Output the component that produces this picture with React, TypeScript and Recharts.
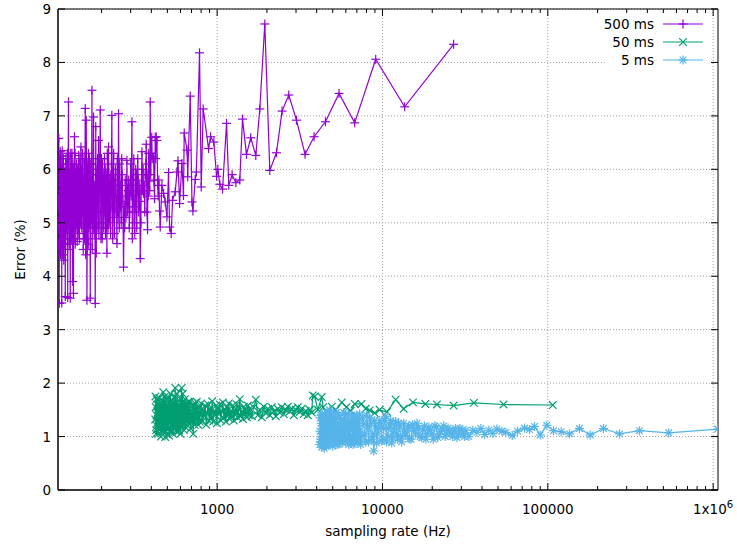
import { LineChart, Line, XAxis, YAxis, CartesianGrid, ReferenceLine, ReferenceArea, Label } from "recharts";

// sampling rate (Hz), error (%)
const rate500: [number, number][] = [
  [109.4, 5.0], [109.8, 5.45], [110.2, 6.58], [110.6, 4.9], [110.9, 3.49], [111.3, 5.2], [111.7, 5.6], [112.1, 4.7],
  [112.5, 6.33], [112.9, 5.3], [113.2, 4.6], [113.6, 5.5], [114.0, 5.9], [114.4, 4.8], [114.8, 3.5], [115.2, 5.1],
  [115.6, 6.35], [116.0, 5.6], [116.4, 4.4], [116.8, 5.3], [117.3, 5.85], [117.7, 4.9], [118.1, 4.3], [118.5, 5.7],
  [118.9, 5.5], [119.7, 4.7], [120.6, 3.62], [121.0, 5.2], [121.4, 5.95], [121.8, 5.0], [122.3, 4.9], [123.1, 5.8],
  [124.0, 5.7], [124.4, 4.5], [124.8, 3.6], [125.2, 5.4], [125.7, 6.25], [126.1, 7.26], [126.8, 5.0], [127.5, 4.6],
  [128.4, 5.6], [129.3, 3.59], [129.7, 5.4], [130.2, 6.3], [130.6, 5.5], [131.1, 5.1], [132.0, 5.9], [132.9, 5.6],
  [133.8, 3.9], [134.3, 5.2], [135.2, 3.68], [136.2, 5.5], [137.1, 6.61], [137.8, 5.0], [138.6, 4.6], [139.5, 5.9],
  [140.5, 5.7], [141.5, 5.0], [142.5, 4.65], [143.8, 5.6], [145.1, 6.26], [145.8, 5.3], [146.5, 5.0], [147.5, 5.5],
  [148.6, 5.9], [150.0, 6.42], [150.8, 5.4], [151.7, 4.9], [152.8, 5.8], [153.8, 5.2], [154.9, 4.5], [156.0, 5.6],
  [157.1, 5.2], [158.2, 5.0], [159.3, 7.14], [160.4, 4.4], [161.5, 6.92], [163.1, 3.55], [164.0, 5.3], [164.9, 6.1],
  [166.1, 4.6], [167.2, 5.5], [168.4, 5.8], [169.6, 5.1], [170.8, 3.59], [172.0, 6.1], [173.5, 5.4], [174.9, 7.48],
  [175.6, 4.5], [177.0, 5.6], [178.8, 6.98], [180.6, 4.8], [181.8, 5.7], [183.1, 3.49], [184.4, 6.8], [185.7, 4.43],
  [187.0, 5.9], [188.3, 5.5], [190.0, 4.9], [191.7, 6.54], [193.6, 5.0], [195.0, 5.6], [196.3, 7.11], [197.6, 5.2],
  [199.0, 5.8], [200.4, 5.0], [201.8, 4.7], [203.3, 5.6], [204.7, 5.9], [206.0, 4.9], [207.5, 5.2], [209.0, 5.7],
  [210.4, 6.0], [212.0, 5.3], [215.4, 4.43], [217.9, 5.6], [220.4, 6.42], [222.5, 5.0], [224.0, 5.5], [225.6, 5.9],
  [228.0, 5.3], [230.7, 7.01], [233.6, 4.7], [235.2, 5.9], [238.5, 5.1], [240.0, 5.6], [241.9, 5.8], [244.5, 5.2],
  [247.7, 4.61], [250.4, 5.5], [253.3, 7.04], [255.7, 4.9], [259.3, 5.7], [261.0, 5.3], [263.0, 5.0], [266.6, 5.9],
  [271.5, 4.17], [274.2, 5.3], [278.0, 5.8], [281.0, 5.1], [284.5, 6.17], [287.5, 5.2], [289.9, 5.6], [294.0, 4.9],
  [298.1, 5.7], [302.3, 5.5], [305.2, 6.89], [308.7, 5.3], [310.8, 5.8], [315.2, 5.0], [319.6, 5.3], [324.1, 5.9],
  [328.6, 5.6], [333.2, 5.8], [337.9, 5.4], [342.6, 4.33], [345.9, 5.0], [350.8, 6.33], [354.8, 5.6], [358.8, 5.55],
  [362.3, 5.7], [367.4, 5.9], [372.5, 6.47], [376.1, 5.2], [379.3, 4.87], [383.0, 5.5], [388.4, 5.78], [393.8, 7.26],
  [399.4, 6.3], [405.0, 6.2], [412.3, 6.23], [418.1, 5.45], [422.2, 6.6], [428.1, 6.61], [432.3, 6.54], [437.2, 5.7],
  [440.2, 5.5], [448.3, 5.22], [452.7, 4.92], [463.5, 5.7], [474.6, 5.55], [485.3, 5.39], [497.0, 5.11], [508.3, 5.94],
  [515.4, 4.92], [527.6, 4.8], [537.2, 5.42], [557.8, 5.58], [571.6, 5.95], [579.6, 6.16], [592.5, 5.36], [612.3, 6.11],
  [625.8, 5.51], [632.3, 6.68], [657.4, 6.36], [663.6, 5.86], [687.3, 7.37], [704.2, 5.39], [713.6, 5.22], [736.9, 5.81],
  [749.0, 5.95], [782.4, 8.18], [801.1, 5.67], [823.7, 7.13], [887, 6.39], [912, 6.61], [955, 6.51], [992, 5.87],
  [1010, 6.0], [1038, 5.72], [1078, 5.63], [1140, 6.86], [1176, 5.7], [1232, 5.9], [1297, 5.75], [1371, 5.8],
  [1424, 6.94], [1505, 6.28], [1597, 6.59], [1713, 6.26], [1811, 7.13], [1942, 8.72], [2082, 5.98], [2285, 6.31],
  [2470, 7.09], [2712, 7.39], [3018, 6.92], [3402, 6.28], [3856, 6.61], [4519, 6.89], [5461, 7.42], [6792, 6.87],
  [9099, 8.06], [13620, 7.17], [26920, 8.34],
];

// more 500 ms readings from the crowded low-rate part
const rate500Dense: [number, number][] = [
  [109.6, 4.6], [110.0, 6.1], [110.4, 5.3], [111.1, 5.8], [111.5, 4.5], [111.9, 6.2], [112.3, 5.0], [112.7, 4.4],
  [113.0, 5.9], [113.4, 6.25], [113.8, 4.9], [114.2, 5.6], [114.6, 6.0], [115.0, 4.6], [115.4, 5.7], [115.8, 4.8],
  [116.2, 6.1], [116.6, 5.0], [117.0, 4.7], [117.5, 6.2], [117.9, 5.4], [118.3, 6.0], [118.7, 4.6], [119.3, 5.95],
  [120.1, 5.3], [121.2, 4.6], [121.6, 6.2], [122.0, 5.6], [122.7, 6.1], [123.5, 4.8], [124.2, 6.3], [124.6, 5.2],
  [125.0, 4.9], [125.4, 5.9], [126.4, 5.5], [127.1, 6.2], [127.9, 5.2], [128.8, 6.0], [129.5, 4.8], [130.0, 5.2],
  [130.4, 4.7], [130.9, 6.0], [131.5, 4.7], [132.4, 6.3], [133.3, 4.9], [134.0, 6.1], [134.7, 5.5], [135.7, 6.0],
  [136.6, 4.7], [137.5, 5.7], [138.2, 6.3], [139.0, 5.2], [140.0, 4.9], [141.0, 6.1], [142.0, 5.5], [143.1, 6.0],
  [144.4, 4.8], [146.1, 5.9], [147.0, 4.7], [148.0, 6.2], [149.2, 5.0], [151.2, 6.0], [152.2, 5.6], [153.3, 6.3],
  [154.3, 5.8], [155.5, 4.8], [156.6, 6.2], [157.6, 4.7], [158.7, 5.9], [159.8, 5.3], [161.0, 5.0], [162.3, 5.8],
  [163.6, 4.5], [165.5, 5.9], [166.7, 6.3], [167.8, 4.9], [169.0, 6.2], [170.2, 5.5], [171.4, 4.7], [172.8, 5.0],
  [174.2, 6.1], [176.3, 5.9], [178.0, 4.9], [179.7, 5.4], [182.4, 5.1], [185.0, 6.0], [186.4, 5.2], [189.1, 6.2],
  [190.8, 5.4], [192.6, 4.8], [194.3, 6.2], [197.0, 6.0], [198.3, 4.7], [199.7, 6.2], [202.5, 6.1], [205.3, 5.5],
  [208.2, 6.2], [211.2, 4.8], [213.5, 5.9], [216.6, 6.3], [219.0, 4.9], [221.5, 5.7], [226.8, 4.8], [229.3, 6.1],
  [232.2, 5.5], [236.8, 6.3], [239.2, 4.8], [243.2, 6.0], [246.0, 5.4], [249.0, 6.2], [251.8, 5.1], [257.5, 6.1],
  [264.8, 6.2], [269.0, 5.4], [276.1, 4.9], [283.0, 5.5], [291.9, 5.8], [296.0, 5.2], [300.2, 6.1], [306.9, 4.7],
  [313.0, 6.2], [317.4, 4.8], [321.8, 6.0], [326.3, 4.9], [330.9, 6.2], [335.5, 5.2], [340.2, 5.7], [347.3, 5.6],
  [356.8, 6.0], [364.8, 5.2], [370.0, 6.1], [381.1, 5.9], [385.7, 6.3], [391.1, 5.6], [396.6, 5.9], [402.2, 6.6],
  [415.0, 5.8], [425.0, 6.2], [444.0, 5.8],
];

const rate50: [number, number][] = [
  [422.2, 1.32], [425.1, 1.55], [428.1, 1.12], [431.1, 1.7], [434.1, 1.25], [437.1, 1.45], [440.2, 1.05], [443.3, 1.62],
  [446.4, 1.38], [449.5, 1.2], [452.7, 1.58], [455.8, 1.15], [459.0, 1.48], [462.2, 1.3], [465.5, 1.66], [468.7, 1.1],
  [472.0, 1.83], [475.3, 1.28], [478.6, 1.52], [482.0, 1.18], [485.3, 0.99], [488.7, 1.45], [492.1, 1.62], [495.6, 1.22],
  [499.0, 1.4], [502.5, 1.55], [506.0, 1.13], [509.6, 1.72], [513.1, 1.35], [516.7, 1.25], [520.3, 1.6], [524.0, 1.08],
  [527.6, 1.47], [531.3, 1.33], [535.0, 1.68], [538.8, 1.2], [542.5, 1.42], [546.3, 1.55], [550.1, 1.15], [553.9, 1.75],
  [557.8, 1.91], [561.7, 1.3], [565.6, 1.5], [569.6, 1.18], [573.6, 1.63], [577.6, 1.38], [581.6, 1.26], [585.7, 1.57],
  [589.8, 1.12], [593.9, 1.45], [598.0, 1.7], [602.2, 1.28], [606.4, 1.52], [610.6, 1.91], [614.9, 1.35], [619.2, 1.8],
  [623.5, 1.22], [627.9, 1.48], [632.3, 1.3], [636.7, 1.6], [641.1, 1.18], [650.1, 1.52], [659.2, 1.36], [668.5, 1.65],
  [677.8, 1.25], [687.3, 1.48], [697.0, 1.32], [706.7, 1.58], [716.6, 1.05], [726.7, 1.45], [736.9, 1.62], [747.2, 1.3],
  [757.7, 1.5], [768.3, 1.22], [779.1, 1.55], [790.0, 1.4], [801.1, 1.62], [812.3, 1.28], [823.7, 1.5], [835.2, 1.38],
  [846.9, 1.58], [858.8, 1.22], [870.8, 1.45], [883.0, 1.6], [895.4, 1.3], [907.9, 1.52], [920.6, 1.35], [933.5, 1.66],
  [946.6, 1.28], [959.9, 1.48], [973.3, 1.4], [987.0, 1.58], [995.8, 1.25], [1010, 1.52], [1024, 1.42], [1038, 1.6],
  [1053, 1.3], [1068, 1.47], [1083, 1.64], [1098, 1.35], [1113, 1.5], [1129, 1.28], [1145, 1.55], [1161, 1.4],
  [1177, 1.62], [1193, 1.33], [1210, 1.48], [1227, 1.38], [1244, 1.58], [1262, 1.3], [1279, 1.5], [1297, 1.42],
  [1315, 1.6], [1334, 1.35], [1352, 1.52], [1371, 1.7], [1391, 1.38], [1410, 1.47], [1430, 1.33], [1450, 1.56],
  [1470, 1.42], [1491, 1.5], [1512, 1.36], [1533, 1.58], [1554, 1.4], [1576, 1.52], [1620, 1.38], [1666, 1.55],
  [1713, 1.69], [1762, 1.4], [1811, 1.5], [1862, 1.36], [1915, 1.56], [1969, 1.44], [2025, 1.52], [2082, 1.4],
  [2141, 1.55], [2201, 1.47], [2263, 1.38], [2327, 1.52], [2393, 1.45], [2460, 1.55], [2530, 1.42], [2601, 1.5],
  [2675, 1.56], [2750, 1.47], [2828, 1.52], [2907, 1.4], [2990, 1.5], [3074, 1.55], [3160, 1.46], [3249, 1.52],
  [3341, 1.42], [3435, 1.48], [3532, 1.4], [3632, 1.5], [3734, 1.45], [3786, 1.77], [3894, 1.75], [4059, 1.5],
  [4294, 1.74], [4373, 1.55], [4620, 1.45], [4935, 1.56], [5215, 1.5], [5672, 1.64], [6052, 1.55], [6426, 1.48],
  [6793, 1.61], [7457, 1.61], [7916, 1.52], [8369, 1.49], [8972, 1.44], [9619, 1.5], [10646, 1.46], [12016, 1.69],
  [13431, 1.52], [15285, 1.64], [18160, 1.61], [21350, 1.6], [26930, 1.58], [35720, 1.63], [53990, 1.6], [107200, 1.59],
];

const rate50Dense: [number, number][] = [
  [423.6, 1.75], [426.6, 1.05], [429.6, 1.4], [432.6, 1.2], [435.6, 1.6], [438.6, 1.3], [441.7, 1.5], [444.8, 1.15],
  [447.9, 1.72], [451.1, 1.28], [454.2, 1.42], [457.4, 1.0], [460.6, 1.6], [463.8, 1.2], [467.1, 1.45], [470.4, 1.35],
  [473.6, 1.1], [477.0, 1.65], [480.3, 1.4], [483.6, 1.75], [487.0, 1.25], [490.4, 1.1], [493.8, 1.5], [497.3, 1.7],
  [500.8, 1.15], [504.3, 1.35], [507.8, 1.5], [511.4, 1.02], [514.9, 1.55], [518.5, 1.4], [522.1, 1.8], [525.8, 1.3],
  [529.5, 1.12], [533.2, 1.55], [536.9, 1.4], [540.6, 1.05], [544.4, 1.62], [548.2, 1.3], [552.0, 1.48], [555.8, 1.22],
  [559.7, 1.6], [563.6, 1.1], [567.6, 1.42], [571.6, 1.8], [575.6, 1.22], [579.6, 1.48], [583.7, 1.1], [587.7, 1.6],
  [591.8, 1.3], [596.0, 1.5], [600.1, 1.05], [604.3, 1.4], [608.5, 1.62], [612.8, 1.2], [617.0, 1.5], [621.4, 1.38],
  [625.7, 1.62], [630.1, 1.12], [634.5, 1.45], [638.9, 1.7], [645.6, 1.35], [654.6, 1.6], [663.8, 1.2], [673.1, 1.45],
  [682.5, 1.65], [692.1, 1.15], [701.8, 1.42], [711.6, 1.28], [721.6, 1.6], [731.8, 1.22], [742.0, 1.48], [752.4, 1.65],
  [763.0, 1.35], [773.7, 1.45], [784.5, 1.28],
];

const rate5: [number, number][] = [
  [4175, 0.85], [4204, 1.35], [4234, 0.95], [4263, 1.25], [4293, 0.8], [4323, 1.42], [4354, 1.05], [4384, 0.9],
  [4415, 1.3], [4446, 0.78], [4475, 1.15], [4507, 1.38], [4538, 0.92], [4570, 1.2], [4602, 0.85], [4634, 1.45],
  [4667, 1.0], [4700, 1.28], [4733, 0.88], [4766, 1.12], [4798, 1.5], [4866, 0.95], [4934, 1.32], [5003, 0.82],
  [5073, 1.18], [5143, 1.4], [5215, 0.9], [5288, 1.25], [5362, 1.05], [5437, 0.86], [5514, 1.35], [5591, 1.0],
  [5669, 1.22], [5749, 0.88], [5829, 1.45], [5911, 1.05], [5994, 0.92], [6078, 1.3], [6163, 1.1], [6249, 0.85],
  [6337, 1.28], [6426, 1.02], [6516, 1.4], [6607, 0.95], [6699, 1.15], [6793, 0.88], [6888, 1.33], [6985, 1.05],
  [7083, 1.2], [7182, 0.92], [7283, 1.42], [7488, 1.0], [7699, 1.25], [7916, 0.9], [8139, 1.18], [8369, 1.35],
  [8605, 0.95], [8848, 0.73], [9098, 1.2], [9354, 1.05], [9619, 1.3], [9890, 0.92], [10169, 1.15], [10456, 1.38],
  [10751, 1.0], [11054, 1.22], [11366, 0.88], [11686, 1.1], [12016, 1.28], [12355, 0.95], [12704, 1.18], [13062, 0.9],
  [13431, 1.25], [13810, 1.02], [14199, 1.15], [14600, 0.96], [15213, 1.22], [15853, 1.05], [16520, 1.15], [17215, 0.98],
  [17940, 1.2], [18695, 1.06], [19480, 1.12], [20300, 0.95], [21155, 1.18], [22045, 1.04], [22970, 1.14], [23940, 1.0],
  [24945, 1.16], [25995, 1.05], [27090, 1.1], [28225, 0.98], [29415, 1.15], [30650, 1.05], [31940, 1.12], [33285, 1.0],
  [35190, 1.12], [37205, 1.08], [39340, 1.15], [41590, 1.04], [43975, 1.12], [46490, 1.06], [49150, 1.14], [52700, 1.1],
  [55720, 1.08], [60930, 1.02], [65590, 1.1], [72320, 1.16], [77500, 1.13], [83100, 1.19], [89970, 1.03], [98620, 1.21],
  [108200, 1.11], [120500, 1.09], [135300, 1.05], [155400, 1.15], [180400, 1.03], [217100, 1.15], [271300, 1.05], [358200, 1.11],
  [538400, 1.07], [1065000, 1.14],
];

const rate5Dense: [number, number][] = [
  [4190, 1.1], [4219, 0.9], [4248, 1.4], [4278, 1.0], [4308, 1.2], [4338, 0.88], [4369, 1.33], [4399, 1.1],
  [4430, 0.95], [4460, 1.42], [4491, 1.0], [4522, 1.25], [4554, 0.82], [4586, 1.35], [4618, 1.05], [4650, 0.95],
  [4683, 1.38], [4716, 0.85], [4750, 1.3], [4782, 1.0], [4832, 1.2], [4900, 1.45], [4968, 1.05], [5038, 1.35],
  [5108, 0.9], [5179, 1.28], [5251, 1.45], [5325, 0.85], [5400, 1.15], [5475, 1.4], [5552, 0.95], [5630, 1.32],
  [5709, 1.1], [5789, 0.92], [5870, 1.25], [5952, 1.4], [6036, 0.98], [6120, 1.2], [6206, 1.42], [6293, 1.0],
  [6381, 0.9], [6471, 1.2], [6561, 1.3], [6653, 0.85], [6746, 1.25], [6840, 1.0], [6936, 1.4], [7034, 0.9],
  [7132, 1.3], [7233, 1.1], [7385, 0.85], [7593, 1.35], [7807, 1.05], [8027, 1.4], [8253, 0.9], [8486, 1.25],
  [8726, 1.05], [8972, 1.3], [9225, 0.88], [9486, 1.15], [9754, 1.25], [10029, 0.95], [10311, 1.3], [10602, 0.9],
  [10902, 1.15], [11209, 1.3], [11525, 0.98], [11850, 1.2], [12185, 1.05], [12529, 1.25], [12882, 1.0], [13620, 1.1],
  [14400, 1.2], [14900, 0.95], [15530, 1.12], [16180, 1.25], [16860, 1.0], [17570, 1.12], [18310, 0.95], [19080, 1.18],
  [19890, 1.05], [20730, 1.2], [21600, 0.98], [22500, 1.1], [23450, 1.2], [24440, 1.05], [25470, 1.12], [26540, 1.0],
  [27660, 1.15], [28820, 1.05], [30030, 1.12], [31290, 1.0],
];

const seriesNames = ["500 ms", "50 ms", "5 ms"];
const seriesColors = ["#9400d3", "#009e73", "#56b4e9"];
const majorX = [1000, 10000, 100000, 1000000];
const minorX = [
  200, 300, 400, 500, 600, 700, 800, 900,
  2000, 3000, 4000, 5000, 6000, 7000, 8000, 9000,
  20000, 30000, 40000, 50000, 60000, 70000, 80000, 90000,
  200000, 300000, 400000, 500000, 600000, 700000, 800000, 900000,
];
const yTicks = [0, 1, 2, 3, 4, 5, 6, 7, 8, 9];

const W = 737;
const H = 546;
const PLOT_W = 660;
const PLOT_H = 481;
const FONT = "'DejaVu Sans', sans-serif";
const FS = 13.5;
const LW = 1.2;

const toRows = (...sets: [number, number][][]) =>
  sets
    .flat()
    .slice()
    .sort((a, b) => a[0] - b[0])
    .map(([x, y]) => ({ x, y }));

function PlusMark({ cx, cy, color, s = 4.5 }: any) {
  return (
    <g stroke={color} strokeWidth={LW}>
      <line x1={cx - s} x2={cx + s} y1={cy} y2={cy} />
      <line x1={cx} x2={cx} y1={cy - s} y2={cy + s} />
    </g>
  );
}

function CrossMark({ cx, cy, color, s = 3.8 }: any) {
  return (
    <g stroke={color} strokeWidth={LW}>
      <line x1={cx - s} x2={cx + s} y1={cy - s} y2={cy + s} />
      <line x1={cx - s} x2={cx + s} y1={cy + s} y2={cy - s} />
    </g>
  );
}

function StarMark({ cx, cy, color }: any) {
  return (
    <g>
      <PlusMark cx={cx} cy={cy} color={color} s={4.5} />
      <CrossMark cx={cx} cy={cy} color={color} s={3.3} />
    </g>
  );
}

const markers = [PlusMark, CrossMark, StarMark];

function makeDot(idx: number) {
  const M = markers[idx];
  return (p: any) => {
    if (p.cx == null || p.cy == null) return <g key={`d${idx}-${p.index}`} />;
    return <M key={`d${idx}-${p.index}`} cx={p.cx} cy={p.cy} color={seriesColors[idx]} />;
  };
}

function XTick({ x, y, payload }: any) {
  const v = payload.value;
  const major = majorX.includes(v);
  const len = major ? 7 : 4;
  let label: any = null;
  if (major) {
    label =
      v >= 1000000 ? (
        <text x={x} y={y + 24} textAnchor="middle" fontSize={FS} fontFamily={FONT} fill="#000">
          1x10<tspan dy={-6} fontSize={FS * 0.75}>6</tspan>
        </text>
      ) : (
        <text x={x} y={y + 24} textAnchor="middle" fontSize={FS} fontFamily={FONT} fill="#000">
          {String(v)}
        </text>
      );
  }
  return (
    <g>
      <line x1={x} x2={x} y1={y} y2={y - len} stroke="#000" strokeWidth={1} />
      <line x1={x} x2={x} y1={y - PLOT_H} y2={y - PLOT_H + len} stroke="#000" strokeWidth={1} />
      {label}
    </g>
  );
}

function YTick({ x, y, payload }: any) {
  return (
    <g>
      <line x1={x} x2={x + 7} y1={y} y2={y} stroke="#000" strokeWidth={1} />
      <line x1={x + PLOT_W - 7} x2={x + PLOT_W} y1={y} y2={y} stroke="#000" strokeWidth={1} />
      <text x={x - 7} y={y + 5} textAnchor="end" fontSize={FS} fontFamily={FONT} fill="#000">
        {payload.value}
      </text>
    </g>
  );
}

function LegendBox() {
  return (
    <svg width={W} height={H} style={{ position: "absolute", left: 0, top: 0, pointerEvents: "none" }}>
      <rect x={606} y={14} width={105} height={55} fill="#fff" />
      {seriesNames.map((name, i) => {
        const y = 24 + i * 18;
        const M = markers[i];
        return (
          <g key={name}>
            <text x={654} y={y + 5} textAnchor="end" fontSize={FS} fontFamily={FONT} fill="#000">
              {name}
            </text>
            <line x1={663} x2={703} y1={y} y2={y} stroke={seriesColors[i]} strokeWidth={LW} />
            <M cx={683} cy={y} color={seriesColors[i]} />
          </g>
        );
      })}
    </svg>
  );
}

export default function App() {
  const all = [toRows(rate500, rate500Dense), toRows(rate50, rate50Dense), toRows(rate5, rate5Dense)];
  return (
    <div style={{ position: "absolute", left: 0, top: 0, width: W, height: H, background: "#fff" }}>
      <LineChart width={W} height={H} margin={{ top: 9, right: 19, bottom: 0, left: 0 }}>
        <CartesianGrid vertical={false} stroke="#a0a0a0" strokeDasharray="1 2" />
        {majorX.map((v) => (
          <ReferenceLine key={v} x={v} stroke="#a0a0a0" strokeDasharray="1 2" />
        ))}
        <XAxis
          dataKey="x"
          type="number"
          scale="log"
          domain={[109, 1070000]}
          allowDataOverflow
          ticks={[...majorX, ...minorX]}
          interval={0}
          tickSize={0}
          tickMargin={0}
          tickLine={false}
          height={56}
          axisLine={{ stroke: "#000" }}
          tick={<XTick />}
        >
          <Label
            content={({ viewBox }: any) => (
              <text
                x={viewBox.x + viewBox.width / 2}
                y={viewBox.y + 46}
                textAnchor="middle"
                fontSize={FS}
                fontFamily={FONT}
                fill="#000"
              >
                sampling rate (Hz)
              </text>
            )}
          />
        </XAxis>
        <YAxis
          type="number"
          domain={[0, 9]}
          ticks={yTicks}
          interval={0}
          width={58}
          tickSize={0}
          tickMargin={0}
          tickLine={false}
          axisLine={{ stroke: "#000" }}
          tick={<YTick />}
        >
          <Label
            content={({ viewBox }: any) => {
              const cx = 21;
              const cy = viewBox.y + viewBox.height / 2;
              return (
                <text
                  x={cx}
                  y={cy}
                  transform={`rotate(-90 ${cx} ${cy})`}
                  textAnchor="middle"
                  dominantBaseline="middle"
                  fontSize={FS}
                  fontFamily={FONT}
                  fill="#000"
                >
                  Error (%)
                </text>
              );
            }}
          />
        </YAxis>
        <ReferenceArea x1={109} x2={1070000} y1={0} y2={9} fill="none" stroke="#000" strokeWidth={1} ifOverflow="visible" />
        {all.map((rows, i) => (
          <Line
            key={seriesNames[i]}
            data={rows}
            dataKey="y"
            name={seriesNames[i]}
            type="linear"
            stroke={seriesColors[i]}
            strokeWidth={LW}
            dot={makeDot(i)}
            activeDot={false}
            isAnimationActive={false}
          />
        ))}
      </LineChart>
      <LegendBox />
    </div>
  );
}
